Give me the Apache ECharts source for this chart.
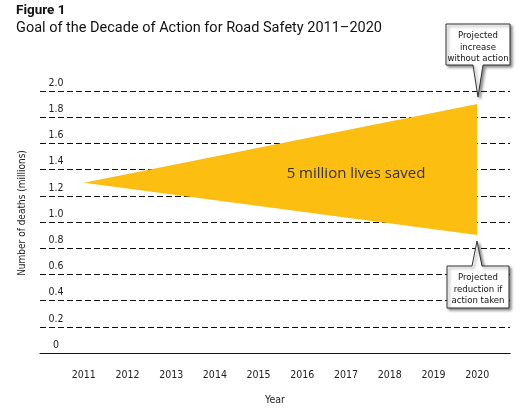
<!DOCTYPE html>
<html>
<head>
<meta charset="utf-8">
<script src="https://cdn.jsdelivr.net/npm/echarts@6/dist/echarts.min.js"></script>
<style>
  html, body { margin: 0; padding: 0; background: #fff; }
  #chart { width: 527px; height: 412px; }
</style>
</head>
<body>
<div id="chart"></div>
<script>
// chart data
const years = [2011, 2020];
const withoutAction = [1.3, 1.9]; // projected increase
const withAction = [1.3, 0.9];    // projected reduction
const yearTicks = [2011, 2012, 2013, 2014, 2015, 2016, 2017, 2018, 2019, 2020];

const YELLOW = "#FDBE12";
const NARROW = "'DejaVu Sans Condensed', 'Liberation Sans Narrow', sans-serif";

const chart = echarts.init(document.getElementById("chart"));

// the cone: apex at the start year, opening between the two projections
function renderCone(params, api) {
  const pts = [
    api.coord([years[0], withAction[0]]),
    api.coord([years[1], withoutAction[1]]),
    api.coord([years[1], withAction[1]]),
  ];
  return {
    type: "polygon",
    shape: { points: pts },
    style: { fill: YELLOW },
  };
}

const options = {
  animation: false,
  grid: { left: 40, right: 17, top: 91, bottom: 59 },
  xAxis: {
    type: "value",
    min: 2010,
    max: 2020.75,
    interval: 1,
    name: "Year",
    nameLocation: "middle",
    nameGap: 42,
    nameTextStyle: { fontFamily: NARROW, fontSize: 10.5, color: "#222" },
    axisLine: { show: true, lineStyle: { color: "#111", width: 1.2 } },
    axisTick: { show: false },
    splitLine: { show: false },
    axisLabel: {
      margin: 17,
      fontFamily: NARROW,
      fontSize: 10.5,
      color: "#222",
      formatter: (v) => (yearTicks.includes(v) ? String(v) : ""),
    },
  },
  yAxis: {
    type: "value",
    min: 0,
    max: 2.0,
    interval: 0.2,
    axisLine: { show: false },
    axisTick: { show: false },
    axisLabel: {
      inside: true,
      margin: 16,
      align: "center",
      verticalAlign: "bottom",
      lineHeight: 16,
      fontFamily: NARROW,
      fontSize: 10.5,
      color: "#222",
      formatter: (v) => (v === 0 ? "0" : v.toFixed(1)),
    },
    splitLine: {
      show: true,
      lineStyle: { color: "#111", type: [6, 3], width: 1 },
    },
  },
  series: [
    {
      type: "custom",
      renderItem: renderCone,
      data: [[years[0], withAction[0]]],
      silent: true,
      z: 3,
    },
  ],
  graphic: [
    {
      type: "text",
      left: 16,
      top: 4,
      style: { text: "Figure 1", font: "bold 13.5px Roboto, sans-serif", fill: "#111" },
    },
    {
      type: "text",
      left: 16,
      top: 21,
      style: {
        text: "Goal of the Decade of Action for Road Safety 2011\u20132020",
        font: "14.5px Roboto, sans-serif",
        fill: "#111",
      },
    },
    {
      type: "text",
      x: 22,
      y: 213,
      rotation: Math.PI / 2,
      style: {
        text: "Number of deaths (millions)",
        font: "10px " + NARROW,
        fill: "#222",
        align: "center",
        verticalAlign: "middle",
      },
    },
    {
      type: "text",
      x: 356,
      y: 174,
      z: 10,
      style: {
        text: "5 million lives saved",
        font: "15px 'Open Sans', sans-serif",
        fill: "#333",
        align: "center",
        verticalAlign: "middle",
      },
    },
    // callout: increase
    {
      type: "polygon",
      shape: {
        points: [[446, 24], [510, 24], [510, 65], [483, 65], [478, 97], [473, 65], [446, 65]],
      },
      style: {
        fill: "#fff",
        stroke: "#333",
        lineWidth: 1,
        shadowBlur: 3,
        shadowOffsetX: 2,
        shadowOffsetY: 2,
        shadowColor: "rgba(0,0,0,0.45)",
      },
      z: 10,
    },
    {
      type: "text",
      x: 478,
      y: 30,
      style: {
        text: "Projected\nincrease\nwithout action",
        font: "9.5px " + NARROW,
        lineHeight: 11.5,
        fill: "#111",
        align: "center",
      },
      z: 11,
    },
    // callout: reduction
    {
      type: "polygon",
      shape: {
        points: [[447, 266], [472, 266], [477, 241], [482, 266], [509, 266], [509, 308], [447, 308]],
      },
      style: {
        fill: "#fff",
        stroke: "#333",
        lineWidth: 1,
        shadowBlur: 3,
        shadowOffsetX: 2,
        shadowOffsetY: 2,
        shadowColor: "rgba(0,0,0,0.45)",
      },
      z: 10,
    },
    {
      type: "text",
      x: 478,
      y: 272,
      style: {
        text: "Projected\nreduction if\naction taken",
        font: "9.5px " + NARROW,
        lineHeight: 11.5,
        fill: "#111",
        align: "center",
      },
      z: 11,
    },
  ],
};

chart.setOption(options);
</script>
</body>
</html>
